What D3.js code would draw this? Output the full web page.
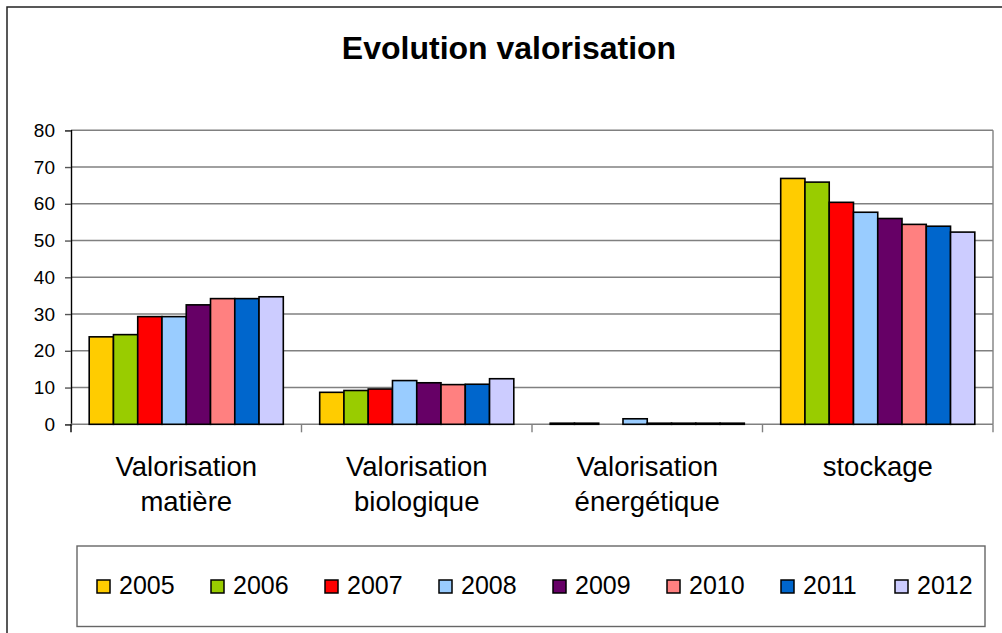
<!DOCTYPE html>
<html>
<head>
<meta charset="utf-8">
<script src="https://cdn.jsdelivr.net/npm/d3@7"></script>
<style>
  body { margin: 0; background: #fff; }
  svg { display: block; font-family: "Liberation Sans", Arial, sans-serif; }
</style>
</head>
<body>
<div id="chart"></div>
<script>
// categories and series
const categories = [["Valorisation", "matière"], ["Valorisation", "biologique"], ["Valorisation", "énergétique"], ["stockage"]]
const years = ["2005", "2006", "2007", "2008", "2009", "2010", "2011", "2012"]
const colors = ["#FFCC00", "#99CC00", "#FF0000", "#99CCFF", "#660066", "#FF8080", "#0066CC", "#CCCCFF"]

// values per category, one per year
const matiere = [23.8, 24.4, 29.3, 29.3, 32.5, 34.2, 34.2, 34.7]
const biologique = [8.7, 9.2, 9.6, 11.9, 11.3, 10.8, 10.9, 12.4]
const energetique = [0.3, 0.3, 0, 1.5, 0.3, 0.3, 0.3, 0.3]
const stockage = [66.9, 65.9, 60.4, 57.7, 56.0, 54.4, 53.9, 52.3]
const yTicks = [0, 10, 20, 30, 40, 50, 60, 70, 80]

const series = [matiere, biologique, energetique, stockage]

const svgWidth = 1002
const svgHeight = 633

const plot = { left: 71, right: 993, top: 130.3, bottom: 424.3 }

const svg = d3.select("#chart")
    .append("svg")
    .attr("width", svgWidth)
    .attr("height", svgHeight)

// outer chart border
svg.append("rect")
    .attr("x", 7).attr("y", 7)
    .attr("width", 1000).attr("height", 700)
    .attr("fill", "none")
    .attr("stroke", "#222")
    .attr("stroke-width", 1.5)

// title
svg.append("text")
    .attr("x", 509).attr("y", 59)
    .attr("text-anchor", "middle")
    .attr("font-size", 32)
    .attr("font-weight", "bold")
    .text("Evolution valorisation")

////////////// scales //////////////
const x0 = d3.scaleBand()
    .domain(d3.range(categories.length))
    .range([plot.left, plot.right])
    .padding(0)

const x1 = d3.scaleBand()
    .domain(years)
    .range([0, x0.bandwidth()])
    .paddingInner(0)
    .paddingOuter(0.75)

const y = d3.scaleLinear()
    .domain([0, 80])
    .range([plot.bottom, plot.top])

////////////// grid & axes //////////////
svg.append("g")
    .selectAll("line")
    .data(yTicks.filter(d => d > 0))
    .join("line")
    .attr("x1", plot.left).attr("x2", plot.right)
    .attr("y1", d => y(d)).attr("y2", d => y(d))
    .attr("stroke", "#808080")
    .attr("stroke-width", 1.4)

// plot area right border
svg.append("line")
    .attr("x1", plot.right).attr("x2", plot.right)
    .attr("y1", plot.top).attr("y2", plot.bottom)
    .attr("stroke", "#808080")
    .attr("stroke-width", 1.4)

const yAxis = svg.append("g")
    .attr("transform", `translate(${plot.left},0)`)
    .call(d3.axisLeft(y).tickValues(yTicks).tickSize(6).tickPadding(10))

yAxis.select(".domain").attr("stroke", "#000").attr("stroke-width", 1.4)
yAxis.selectAll(".tick line").attr("stroke", "#555").attr("stroke-width", 1.4)
yAxis.selectAll("text")
    .attr("font-size", 19)
    .attr("font-family", "Liberation Sans, Arial, sans-serif")
    .attr("fill", "#000")

// category axis
const xAxis = svg.append("g")
    .attr("transform", `translate(0,${plot.bottom})`)

xAxis.append("line")
    .attr("x1", plot.left).attr("x2", plot.right)
    .attr("stroke", "#808080")
    .attr("stroke-width", 1.4)

xAxis.selectAll(".cat-tick")
    .data(d3.range(categories.length + 1))
    .join("line")
    .attr("class", "cat-tick")
    .attr("x1", d => d < categories.length ? x0(d) : plot.right)
    .attr("x2", d => d < categories.length ? x0(d) : plot.right)
    .attr("y1", 0).attr("y2", 8)
    .attr("stroke", d => d == 0 ? "#000" : "#808080")
    .attr("stroke-width", 1.4)

xAxis.selectAll(".cat-label")
    .data(categories)
    .join("text")
    .attr("class", "cat-label")
    .attr("text-anchor", "middle")
    .attr("font-size", 27.5)
    .selectAll("tspan")
    .data((d, i) => d.map(t => ({ t, i })))
    .join("tspan")
    .attr("x", d => x0(d.i) + x0.bandwidth() / 2)
    .attr("y", (d, j) => 52 + j * 35)
    .text(d => d.t)

////////////// bars //////////////
const bars = svg.append("g")
    .selectAll("g")
    .data(series)
    .join("g")
    .attr("transform", (d, i) => `translate(${x0(i)},0)`)

bars.selectAll("rect")
    .data(d => d.map((v, j) => ({ year: years[j], value: v, color: colors[j] })))
    .join("rect")
    .attr("x", d => x1(d.year))
    .attr("y", d => y(d.value))
    .attr("width", x1.bandwidth())
    .attr("height", d => y(0) - y(d.value))
    .attr("fill", d => d.color)
    .attr("stroke", "#000")
    .attr("stroke-width", d => d.value > 0 ? 1.6 : 0)

////////////// legend //////////////
svg.append("rect")
    .attr("x", 77).attr("y", 546)
    .attr("width", 908).attr("height", 80.5)
    .attr("fill", "#fff")
    .attr("stroke", "#666")
    .attr("stroke-width", 1.4)

const legend = svg.append("g")
    .selectAll("g")
    .data(years)
    .join("g")
    .attr("transform", (d, i) => `translate(${97 + i * 114},0)`)

legend.append("rect")
    .attr("x", 0).attr("y", 580)
    .attr("width", 13).attr("height", 13)
    .attr("fill", (d, i) => colors[i])
    .attr("stroke", "#000")
    .attr("stroke-width", 1.5)

legend.append("text")
    .attr("x", 22).attr("y", 594)
    .attr("font-size", 25)
    .text(d => d)
</script>
</body>
</html>
